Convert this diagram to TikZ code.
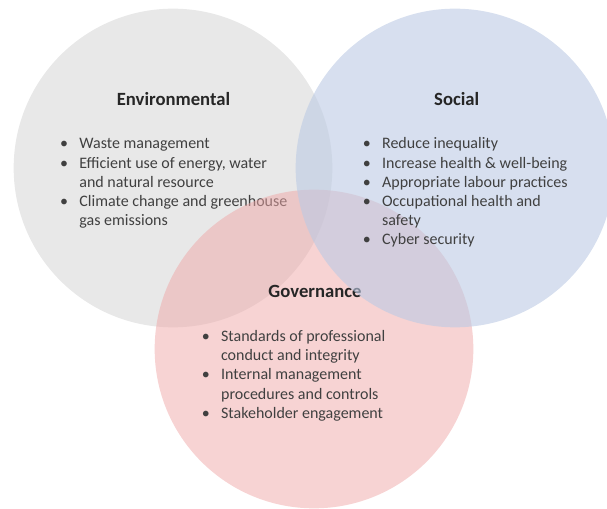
\documentclass[tikz,border=0pt]{standalone}
\usepackage{fontspec}
\setmainfont{Carlito}
\definecolor{envgray}{RGB}{232,232,232}
\definecolor{socblue}{RGB}{188,202,228}
\definecolor{govpink}{RGB}{239,167,167}
\definecolor{bodytext}{RGB}{64,64,64}
\definecolor{headtext}{RGB}{38,38,38}
\newcommand{\bitem}{\makebox[14.5pt][l]{\textbullet}&}
\newcommand{\blist}[1]{\fontsize{12}{14.4}\selectfont\begin{tabular}[t]{@{}l@{}l@{}}#1\end{tabular}}
\begin{document}
\begin{tikzpicture}[x=0.75pt, y=-0.75pt, ring/.style = {circle,minimum size=239pt,inner sep=0pt}, head/.style = {anchor=base,inner sep=0pt,text=headtext,font=\fontsize{14}{16.8}\selectfont\bfseries}, items/.style = {anchor=base west,inner sep=0pt,text=bodytext}]
  \useasboundingbox (0,0) rectangle (607,509);
  \node[ring,fill=envgray] (env) at (173,168) {};
  \node[head] (envtitle) at (173.5,106) {Environmental};
  \node[items] (envlist) at (59.8,149) {\blist{
    \bitem Waste management\\
    \bitem Efficient use of energy, water\\
    & and natural resource\\
    \bitem Climate change and greenhouse\\
    & gas emissions}};
  \node[ring,fill=govpink,fill opacity=0.5] (gov) at (314,349) {};
  \node[head] (govtitle) at (315,297.7) {Governance};
  \node[items] (govlist) at (201.5,341.5) {\blist{
    \bitem Standards of professional\\
    & conduct and integrity\\
    \bitem Internal management\\
    & procedures and controls\\
    \bitem Stakeholder engagement}};
  \node[ring,fill=socblue,fill opacity=0.6] (soc) at (455,168) {};
  \node[head] (soctitle) at (456.7,106) {Social};
  \node[items] (soclist) at (362.5,149) {\blist{
    \bitem Reduce inequality\\
    \bitem Increase health \& well-being\\
    \bitem Appropriate labour practices\\
    \bitem Occupational health and\\
    & safety\\
    \bitem Cyber security}};
\end{tikzpicture}
\end{document}
